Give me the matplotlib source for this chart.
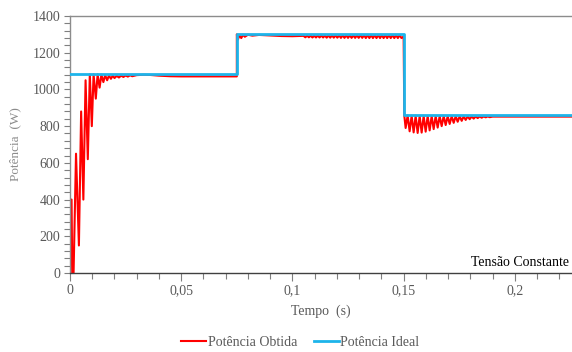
import matplotlib
matplotlib.use("Agg")
import matplotlib.pyplot as plt
from matplotlib.ticker import MultipleLocator

plt.rcParams['font.family'] = ['Liberation Serif', 'DejaVu Serif']

# Ideal power (steps of irradiance)
t_ideal = [0.0, 0.075, 0.075, 0.15, 0.15, 0.2257]
p_ideal = [1082, 1082, 1300, 1300, 862, 862]

# Obtained power: start-up transient and first plateau
t_seg1 = [0.0000, 0.0002, 0.0007, 0.0010, 0.0016, 0.0027, 0.0040, 0.0050, 0.0060,
          0.0070, 0.0080, 0.0089, 0.0098, 0.0106, 0.0116, 0.0124, 0.0133, 0.0141,
          0.0150, 0.0158, 0.0167, 0.0175, 0.0184, 0.0192, 0.0200, 0.0210, 0.0220,
          0.0230, 0.0240, 0.0250, 0.0260, 0.0270, 0.0280, 0.0300, 0.0330, 0.0360,
          0.0400, 0.0450, 0.0500, 0.0750]
p_seg1 = [0, 400, 400, 0, 0, 650, 150, 880, 400,
          1050, 620, 1082, 800, 1082, 950, 1082, 1010, 1080,
          1040, 1078, 1050, 1076, 1058, 1075, 1062, 1074, 1065,
          1075, 1068, 1076, 1070, 1077, 1072, 1078, 1080, 1079,
          1075, 1072, 1071, 1071]

# Second plateau (1300 W reference)
t_seg2 = [0.0750, 0.0755, 0.0762, 0.0770, 0.0778, 0.0786, 0.0800, 0.0820, 0.0850,
          0.0900, 0.0950, 0.1000, 0.1050, 0.1058, 0.1066, 0.1074, 0.1082, 0.1090,
          0.1098, 0.1106, 0.1114, 0.1122, 0.1130, 0.1138, 0.1146, 0.1154, 0.1162,
          0.1170, 0.1178, 0.1186, 0.1194, 0.1202, 0.1210, 0.1218, 0.1226, 0.1234,
          0.1242, 0.1250, 0.1258, 0.1266, 0.1274, 0.1282, 0.1290, 0.1298, 0.1306,
          0.1314, 0.1322, 0.1330, 0.1338, 0.1346, 0.1354, 0.1362, 0.1370, 0.1378,
          0.1386, 0.1394, 0.1402, 0.1410, 0.1418, 0.1426, 0.1434, 0.1442, 0.1450,
          0.1458, 0.1466, 0.1474, 0.1482, 0.1490, 0.1500]
p_seg2 = [1300, 1272, 1295, 1280, 1298, 1287, 1298, 1293, 1297,
          1294, 1291, 1290, 1292, 1284, 1293, 1284, 1293, 1283,
          1293, 1283, 1294, 1283, 1294, 1283, 1294, 1282, 1294,
          1282, 1295, 1282, 1295, 1282, 1295, 1281, 1295, 1281,
          1295, 1281, 1295, 1281, 1295, 1281, 1295, 1281, 1296,
          1281, 1296, 1280, 1296, 1280, 1296, 1280, 1296, 1280,
          1296, 1280, 1296, 1280, 1296, 1280, 1296, 1280, 1296,
          1280, 1296, 1280, 1296, 1280, 1288]

# Third plateau: oscillating recovery after the drop
t_seg3 = [0.1500, 0.1503, 0.1509, 0.1518, 0.1527, 0.1536, 0.1545, 0.1554, 0.1563,
          0.1572, 0.1581, 0.1590, 0.1599, 0.1608, 0.1617, 0.1626, 0.1635, 0.1644,
          0.1653, 0.1662, 0.1671, 0.1680, 0.1689, 0.1698, 0.1707, 0.1716, 0.1725,
          0.1734, 0.1743, 0.1752, 0.1761, 0.1770, 0.1779, 0.1788, 0.1797, 0.1806,
          0.1815, 0.1824, 0.1833, 0.1842, 0.1851, 0.1860, 0.1869, 0.1878, 0.1887,
          0.1900, 0.2000, 0.2257]
p_seg3 = [1288, 858, 790, 858, 772, 857, 766, 857, 763,
          856, 765, 856, 770, 856, 777, 855, 784, 855,
          792, 855, 800, 855, 806, 854, 812, 854, 818,
          854, 824, 854, 829, 853, 834, 853, 838, 853,
          841, 853, 844, 853, 846, 853, 848, 853, 849,
          852, 852, 852]

x_ticks = [0.0, 0.05, 0.1, 0.15, 0.2]
x_tick_labels = ["0", "0,05", "0,1", "0,15", "0,2"]

t_obt = t_seg1 + t_seg2 + t_seg3
p_obt = p_seg1 + p_seg2 + p_seg3

fig = plt.figure(figsize=(5.72, 3.52), dpi=100)
ax = fig.add_axes([0.1224, 0.2244, 0.8776, 0.7301])

ax.plot(t_obt, p_obt, color="#FF0000", lw=1.5, label="Potência Obtida", zorder=2)
ax.plot(t_ideal, p_ideal, color="#1DB4EA", lw=2.0, label="Potência Ideal", zorder=3)

ax.set_xlim(0, 0.2257)
ax.set_ylim(0, 1400)

ax.set_xticks(x_ticks)
ax.set_xticklabels(x_tick_labels)
ax.xaxis.set_minor_locator(MultipleLocator(0.01))
ax.yaxis.set_major_locator(MultipleLocator(200))
ax.yaxis.set_minor_locator(MultipleLocator(40))

tick_grey = "#595959"
ax.tick_params(axis="both", which="major", labelsize=10, colors="#7f7f7f",
               labelcolor=tick_grey, width=0.8)
ax.tick_params(axis="x", which="major", length=6, pad=2)
ax.tick_params(axis="x", which="minor", length=4, color="#7f7f7f", width=0.8)
ax.tick_params(axis="y", which="major", length=4, pad=3)
ax.tick_params(axis="y", which="minor", length=4, color="#7f7f7f", width=0.8)

for side in ("left", "top"):
    ax.spines[side].set_color("#8c8c8c")
    ax.spines[side].set_linewidth(1.0)
ax.spines["bottom"].set_color("#404040")
ax.spines["bottom"].set_linewidth(1.0)
ax.spines["right"].set_visible(False)

ax.set_xlabel("Tempo  (s)", fontsize=10, color=tick_grey, labelpad=5)
ax.set_ylabel("Potência  (W)", fontsize=9.5, color="#8c8c8c", labelpad=8)

ax.text(0.994, 0.015, "Tensão Constante", transform=ax.transAxes, ha="right",
        va="bottom", fontsize=10, color="black")

leg = fig.legend(loc="center", bbox_to_anchor=(0.525, 0.028), ncol=2, frameon=False,
                 fontsize=10, handlelength=1.8, handletextpad=0.1, columnspacing=1.2)
for txt in leg.get_texts():
    txt.set_color(tick_grey)

fig.savefig("out.png", dpi=100)
